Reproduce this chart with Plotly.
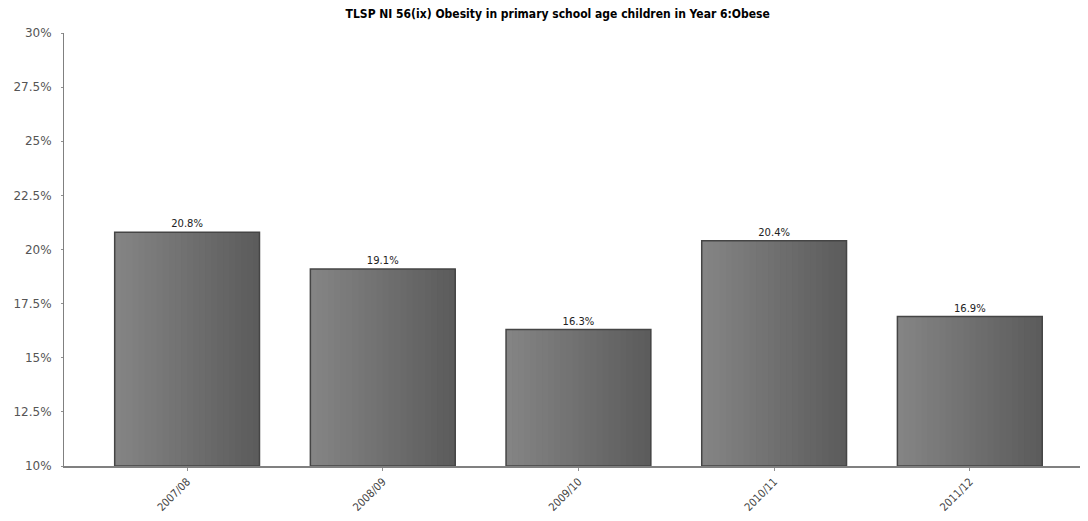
import plotly.graph_objects as go

categories = ["2007/08", "2008/09", "2009/10", "2010/11", "2011/12"]
values = [20.8, 19.1, 16.3, 20.4, 16.9]
value_labels = ["20.8%", "19.1%", "16.3%", "20.4%", "16.9%"]
y_ticks = [10, 12.5, 15, 17.5, 20, 22.5, 25, 27.5, 30]
y_tick_labels = ["10%", "12.5%", "15%", "17.5%", "20%", "22.5%", "25%", "27.5%", "30%"]

title = "TLSP NI 56(ix) Obesity in primary school age children in Year 6:Obese"

BAR_W = 0.74
N = 24
c0 = (0x84, 0x84, 0x84)
c1 = (0x5c, 0x5c, 0x5c)

fig = go.Figure()
x_idx = list(range(len(categories)))
for i in range(N):
    t = i / (N - 1)
    col = tuple(round(a + (b - a) * t) for a, b in zip(c0, c1))
    start = -BAR_W / 2 + i * BAR_W / N
    fig.add_trace(go.Bar(
        x=x_idx, y=[v - 10 for v in values], base=10,
        width=BAR_W / 2 - start, offset=start,
        marker=dict(color="rgb(%d,%d,%d)" % col, line=dict(width=0)),
        hoverinfo="skip", showlegend=False,
    ))
# outline + labels
fig.add_trace(go.Bar(
    x=x_idx, y=[v - 10 for v in values], base=10,
    width=BAR_W, offset=-BAR_W / 2,
    marker=dict(color="rgba(0,0,0,0)", line=dict(color="#454545", width=1.5)),
    text=value_labels, textposition="outside", cliponaxis=False,
    textfont=dict(family="DejaVu Sans", size=10, color="#222222"),
    showlegend=False,
))

# the page body has an 8px margin, so the figure is sized to the visible area
fig.update_layout(
    width=1080, height=505,
    margin=dict(l=56, r=0, t=25, b=47),
    paper_bgcolor="white", plot_bgcolor="white",
    barmode="overlay",
    title=dict(text="<b>" + title + "</b>", x=0.509, xref="container", xanchor="center",
               y=0.988, yref="container", yanchor="middle",
               font=dict(family="DejaVu Sans Condensed", size=12, color="#000000")),
    xaxis=dict(
        range=[-0.629, 4.604], tickvals=x_idx, ticktext=categories,
        tickangle=-45, showgrid=False, zeroline=False, automargin=False,
        showline=True, linecolor="#808080", linewidth=2,
        ticks="outside", ticklen=3, tickcolor="#909090",
        tickfont=dict(family="DejaVu Sans Condensed", size=11, color="#444444"),
    ),
    yaxis=dict(
        range=[10, 30], tickvals=y_ticks, ticktext=y_tick_labels,
        showgrid=False, zeroline=False, automargin=False,
        showline=True, linecolor="#808080", linewidth=1,
        ticks="outside", ticklen=2, tickcolor="#909090", ticklabelstandoff=7,
        tickfont=dict(family="DejaVu Sans", size=12, color="#555555"),
    ),
)

fig.write_html("out.html")
